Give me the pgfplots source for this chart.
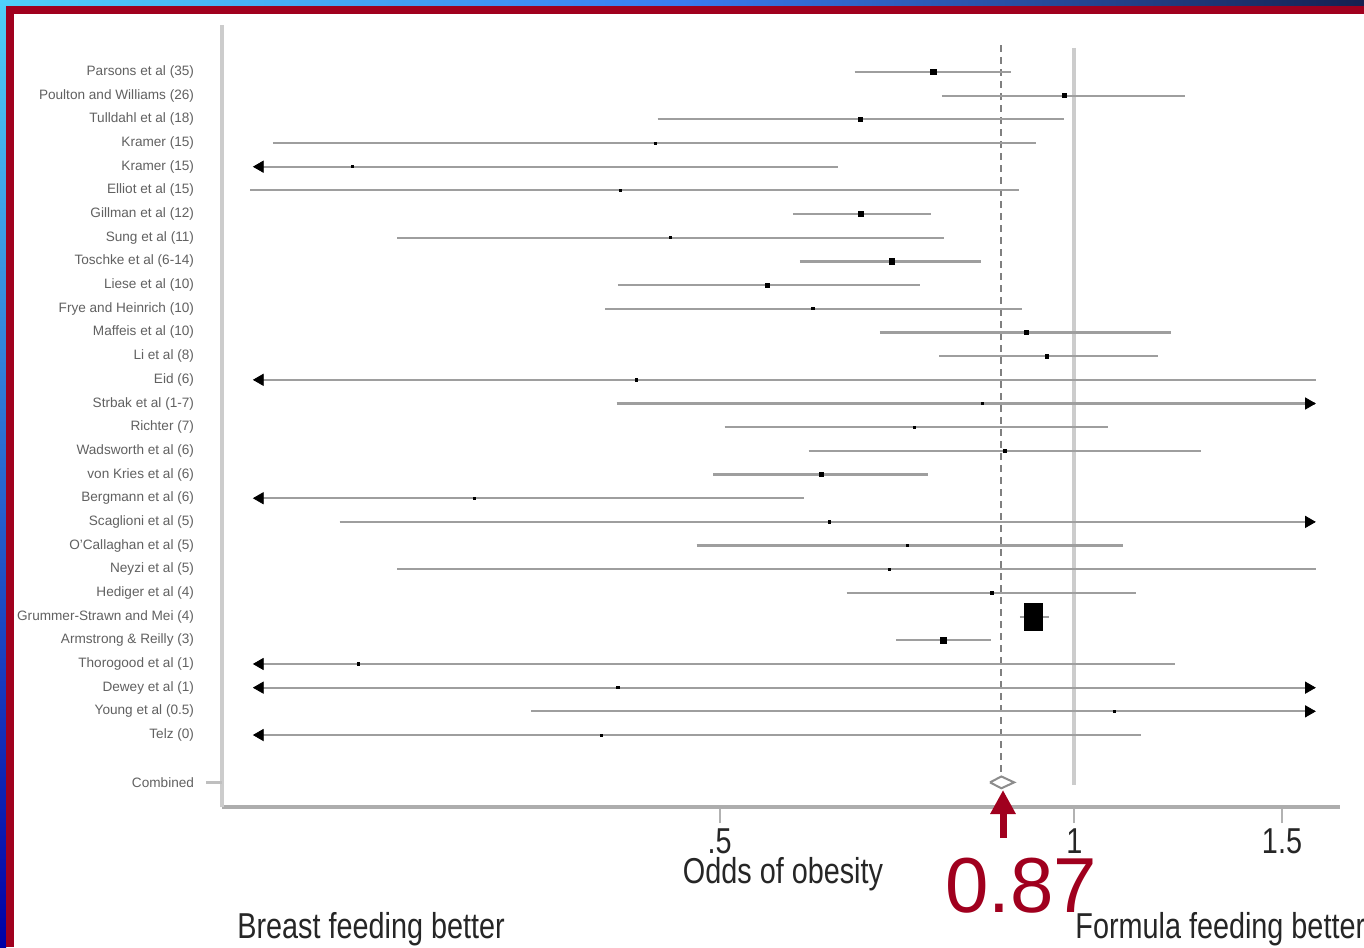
\documentclass[border=0pt]{standalone}
\usepackage{fontspec}
\setmainfont{Liberation Sans}
\newfontfamily\narrowfont[FakeStretch=0.80]{Liberation Sans}
\usepackage{pgfplots}
\pgfplotsset{compat=1.18}
\usetikzlibrary{arrows.meta}
\definecolor{framered}{HTML}{A0001E}
\definecolor{cyanA}{HTML}{50D0F8}
\definecolor{blueB}{HTML}{3A7CF0}
\definecolor{navyC}{HTML}{152050}
\begin{document}
\begin{tikzpicture}
\path[use as bounding box] (0,0) rectangle (682pt,-473.5pt);
\clip (0,0) rectangle (682pt,-473.5pt);
\fill[white] (0,0) rectangle (682pt,-473.5pt);
\shade[left color=cyanA, right color=navyC, middle color=blueB] (0,0) rectangle (682pt,-3pt);
\shade[top color=cyanA, bottom color=blue!65!black] (0,0) rectangle (3pt,-473.5pt);
\fill[framered] (3pt,-3pt) rectangle (682pt,-7pt);
\fill[framered] (3pt,-3pt) rectangle (6.8pt,-473.5pt);
\begin{axis}[
  at={(111pt,-403.5pt)}, anchor=south west, scale only axis,
  width=559pt, height=391pt,
  xmode=log, xmin=0.1892, xmax=1.680, ymin=-32.04, ymax=0.985,
  axis x line*=bottom, axis y line*=left,
  x axis line style={-, line width=1.6pt, draw=black!32},
  y axis line style={-, line width=1.6pt, draw=black!20},
  xtick={0.5,1,1.5}, xticklabels={.5,1,1.5},
  tick align=outside, major tick length=8pt,
  every x tick/.append style={draw=black!30, line width=1pt},
  xticklabel style={font=\narrowfont\fontsize{18}{18}\selectfont, text=black!85, inner sep=0pt, yshift=-2.5pt},
  ytick={-31,-29,-28,...,-1},
  yticklabels={Combined,Telz (0),Young et al (0.5),Dewey et al (1),Thorogood et al (1),Armstrong \& Reilly (3),Grummer-Strawn and Mei (4),Hediger et al (4),Neyzi et al (5),O'Callaghan et al (5),Scaglioni et al (5),Bergmann et al (6),von Kries et al (6),Wadsworth et al (6),Richter (7),Strbak et al (1-7),Eid (6),Li et al (8),Maffeis et al (10),Frye and Heinrich (10),Liese et al (10),Toschke et al (6-14),Sung et al (11),Gillman et al (12),Elliot et al (15),Kramer (15),Kramer (15),Tulldahl et al (18),Poulton and Williams (26),Parsons et al (35)},
  every y tick/.append style={draw=none},
  yticklabel style={font=\fontsize{6.8}{7}\selectfont, text=black!62, xshift=-2.5pt},
  extra y ticks={-31}, extra y tick labels={},
  extra y tick style={every y tick/.append style={draw=black!25, line width=1.5pt}},
  clip=false,
  ci/.style={draw=black!38, line width=1.1pt},
  est/.style={only marks, mark=square*, mark options={fill=black, draw=black}},
]
% reference lines
\addplot[draw=black!20, line width=2pt] coordinates {(1,0.0135) (1,-31.11)};
\addplot[draw=black!50, line width=1pt, dash pattern=on 3.5pt off 2.5pt] coordinates {(0.867,0.14) (0.867,-30.69)};
% confidence intervals
\addplot[ci] coordinates {(0.651,-1) (0.883,-1)};
\addplot[ci] coordinates {(0.772,-2) (1.241,-2)};
\addplot[ci] coordinates {(0.443,-3) (0.980,-3)};
\addplot[ci] coordinates {(0.209,-4) (0.928,-4)};
\addplot[ci] coordinates {(0.2014,-5) (0.630,-5)};
\addplot[ci] coordinates {(0.200,-6) (0.897,-6)};
\addplot[ci] coordinates {(0.577,-7) (0.756,-7)};
\addplot[ci] coordinates {(0.2665,-8) (0.775,-8)};
\addplot[ci] coordinates {(0.585,-9) (0.833,-9)};
\addplot[ci] coordinates {(0.410,-10) (0.740,-10)};
\addplot[ci] coordinates {(0.400,-11) (0.902,-11)};
\addplot[ci] coordinates {(0.684,-12) (1.207,-12)};
\addplot[ci] coordinates {(0.768,-13) (1.177,-13)};
\addplot[ci] coordinates {(0.2014,-14) (1.603,-14)};
\addplot[ci] coordinates {(0.409,-15) (1.600,-15)};
\addplot[ci] coordinates {(0.505,-16) (1.068,-16)};
\addplot[ci] coordinates {(0.595,-17) (1.280,-17)};
\addplot[ci] coordinates {(0.494,-18) (0.751,-18)};
\addplot[ci] coordinates {(0.2014,-19) (0.590,-19)};
\addplot[ci] coordinates {(0.238,-20) (1.600,-20)};
\addplot[ci] coordinates {(0.478,-21) (1.099,-21)};
\addplot[ci] coordinates {(0.2665,-22) (1.603,-22)};
\addplot[ci] coordinates {(0.641,-23) (1.128,-23)};
\addplot[ci] coordinates {(0.899,-24) (0.951,-24)};
\addplot[ci] coordinates {(0.706,-25) (0.849,-25)};
\addplot[ci] coordinates {(0.2014,-26) (1.217,-26)};
\addplot[ci] coordinates {(0.2014,-27) (1.600,-27)};
\addplot[ci] coordinates {(0.346,-28) (1.600,-28)};
\addplot[ci] coordinates {(0.2014,-29) (1.139,-29)};
% point estimates
\addplot[est, mark size=1.4pt] coordinates {(0.759,-1) (0.659,-7) (0.700,-9) (0.774,-25)};
\addplot[est, mark size=0.9pt] coordinates {(0.981,-2) (0.658,-3) (0.549,-10) (0.910,-12) (0.948,-13) (0.610,-18)};
\addplot[est, mark size=0.55pt] coordinates {(0.441,-4) (0.244,-5) (0.412,-6) (0.454,-8) (0.600,-11) (0.425,-14) (0.836,-15) (0.732,-16) (0.873,-17) (0.310,-19) (0.620,-20) (0.722,-21) (0.697,-22) (0.851,-23) (0.247,-26) (0.410,-27) (1.082,-28) (0.397,-29)};
\addplot[est, mark size=4.6pt, mark options={yscale=1.45}] coordinates {(0.923,-24)};
% arrows for truncated intervals
\addplot[only marks, mark=triangle*, mark size=3.2pt, mark options={rotate=90, fill=black, draw=black}] coordinates {(0.2038,-5) (0.2038,-14) (0.2038,-19) (0.2038,-26) (0.2038,-27) (0.2038,-29)};
\addplot[only marks, mark=triangle*, mark size=3.2pt, mark options={rotate=-90, fill=black, draw=black}] coordinates {(1.580,-15) (1.580,-20) (1.580,-27) (1.580,-28)};
% combined
\addplot[draw=black!45, line width=1pt] coordinates {(0.848,-31) (0.867,-30.75) (0.889,-31) (0.867,-31.25) (0.848,-31)};
\end{axis}
\begin{scope}[x=0.5pt, y=-0.5pt]
\node[font=\narrowfont\fontsize{18}{18}\selectfont, text=black!85, anchor=base, inner sep=0pt] at (783,883) {Odds of obesity};
\node[font=\narrowfont\fontsize{18}{18}\selectfont, text=black!85, anchor=base west, inner sep=0pt] at (237,938) {Breast feeding better};
\node[font=\narrowfont\fontsize{18}{18}\selectfont, text=black!85, anchor=base west, inner sep=0pt] at (1075,938) {Formula feeding better};
\node[font=\fontsize{39}{39}\selectfont, text=framered, anchor=base, inner sep=0pt] at (1021,912) {0.87};
\draw[framered, line width=3.5pt, -{Triangle[width=12pt,length=12pt]}] (1003,838) -- (1003,790);
\end{scope}
\end{tikzpicture}
\end{document}
